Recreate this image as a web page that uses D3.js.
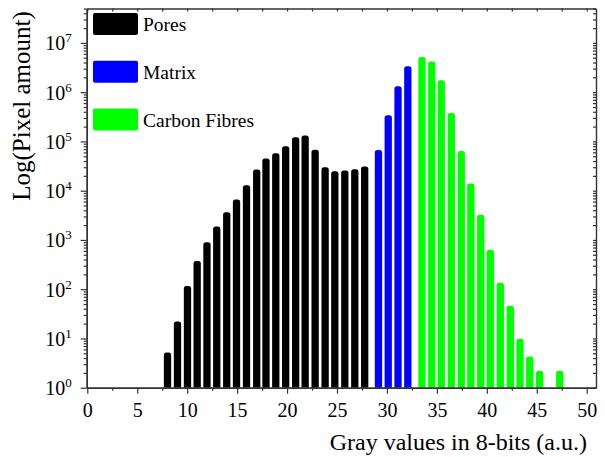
<!DOCTYPE html>
<html>
<head>
<meta charset="utf-8">
<style>
  body { margin: 0; background: #fff; }
  svg { display: block; }
  svg text { font-family: "Liberation Serif", "Times New Roman", serif; }
</style>
<script src="https://cdn.jsdelivr.net/npm/d3@7"></script>
</head>
<body>
<svg id="graph" width="605" height="457"></svg>
<script>

// gray value (bar centre) and pixel count
var poresX = [8.03, 9.03, 10.03, 11.00, 11.98, 12.96, 13.96, 14.94, 15.94, 16.96, 17.89,
              18.87, 19.86, 20.86, 21.81, 22.81, 23.81, 24.78, 25.78, 26.78, 27.77];
var poresY = [5.2, 22, 116, 372, 900, 1880, 3650, 6600, 12900, 27000, 45000,
              57500, 80000, 121000, 132000, 68000, 30000, 24800, 25700, 27300, 31000];

var matrixX = [29.15, 30.13, 31.11, 32.09];
var matrixY = [67000, 340000, 1320000, 3350000];

var fibresX = [33.51, 34.49, 35.44, 36.44, 37.44, 38.40, 39.39, 40.35, 41.35, 42.35,
               43.32, 44.30, 45.29, 47.30];
var fibresY = [5200000, 4200000, 1740000, 380000, 64000, 14000, 3230, 630, 135, 46,
               9.9, 4.3, 2.2, 2.2];

var seriesNames = ["Pores", "Matrix", "Carbon Fibres"];
var seriesColors = ["#000000", "#0000ff", "#00ff00"];

var xTicks = [0, 5, 10, 15, 20, 25, 30, 35, 40, 45, 50];
var yTicks = [1, 10, 100, 1000, 10000, 100000, 1000000, 10000000];
var yExp = ["0", "1", "2", "3", "4", "5", "6", "7"];

var serif = "'Liberation Serif', 'Times New Roman', serif";
var svg = d3.select("#graph");
var axisColor = "#333";

var x = d3.scaleLinear().domain([-0.06, 50.93]).range([86.7, 596]);
var y = d3.scaleLog().domain([1, 5e7]).range([387.7, 8.5]);

var barW = x(0.73) - x(0);
var r = 2.5;

function barPath(cx, v) {
	var x0 = x(cx) - barW / 2, x1 = x(cx) + barW / 2;
	var yt = y(v), yb = y(1);
	return "M" + x0 + "," + yb +
		"V" + (yt + r) +
		"Q" + x0 + "," + yt + " " + (x0 + r) + "," + yt +
		"H" + (x1 - r) +
		"Q" + x1 + "," + yt + " " + x1 + "," + (yt + r) +
		"V" + yb + "Z";
}

var series = [
	{xs: poresX, ys: poresY},
	{xs: matrixX, ys: matrixY},
	{xs: fibresX, ys: fibresY}
];

series.forEach(function(s, k) {
	svg.append("g")
		.selectAll("path")
		.data(s.xs.map((d, i) => [d, s.ys[i]]))
		.enter().append("path")
			.attr("d", d => barPath(d[0], d[1]))
			.attr("fill", seriesColors[k]);
});

// minor ticks
var xMinor = xTicks.slice(0, -1).map(d => d + 2.5);
var yMinor = [];
yTicks.forEach(function(d) {
	for (var m = 2; m <= 9; m++) if (d * m <= 5e7) yMinor.push(d * m);
});

function styleAxis(g) {
	g.attr("font-family", serif).attr("font-size", null);
	g.select(".domain").attr("stroke", axisColor).attr("stroke-width", 1.4);
	g.selectAll(".tick line").attr("stroke", axisColor).attr("stroke-width", 1.2);
	g.selectAll(".tick text").remove();
}

// bottom
svg.append("g").attr("transform", "translate(0," + y(1) + ")")
	.call(d3.axisBottom(x).tickValues(xMinor).tickSize(3).tickSizeOuter(0)).call(styleAxis);
var xb = svg.append("g").attr("transform", "translate(0," + y(1) + ")")
	.call(d3.axisBottom(x).tickValues(xTicks).tickSize(6).tickSizeOuter(0));
styleAxis(xb);
xb.selectAll(".tick").append("text")
	.attr("y", 29)
	.attr("text-anchor", "middle")
	.attr("fill", "#000")
	.style("font-family", serif)
	.style("font-size", "20px")
	.text(d => d);

// top
svg.append("g").attr("transform", "translate(0," + y(5e7) + ")")
	.call(d3.axisTop(x).tickValues(xTicks.concat(xMinor)).tickSize(-3).tickSizeOuter(0)).call(styleAxis);

// left
svg.append("g").attr("transform", "translate(" + x.range()[0] + ",0)")
	.call(d3.axisLeft(y).tickValues(yMinor).tickSize(3).tickSizeOuter(0)).call(styleAxis);
var yl = svg.append("g").attr("transform", "translate(" + x.range()[0] + ",0)")
	.call(d3.axisLeft(y).tickValues(yTicks).tickSize(6).tickSizeOuter(0));
styleAxis(yl);
var lab = yl.selectAll(".tick").append("text")
	.attr("x", -15)
	.attr("y", 7)
	.attr("text-anchor", "end")
	.attr("fill", "#000")
	.style("font-family", serif)
	.style("font-size", "20px");
lab.append("tspan").text("10");
lab.append("tspan").attr("dy", -8).style("font-size", "13px").text((d, i) => yExp[i]);

// right
svg.append("g").attr("transform", "translate(" + x.range()[1] + ",0)")
	.call(d3.axisRight(y).tickValues(yTicks.concat(yMinor)).tickSize(-3).tickSizeOuter(0)).call(styleAxis);

// axis titles
svg.append("text")
	.attr("x", 587).attr("y", 450)
	.attr("text-anchor", "end")
	.style("font-size", "24px")
	.text("Gray values in 8-bits (a.u.)");

svg.append("text")
	.attr("transform", "translate(30,106) rotate(-90)")
	.attr("text-anchor", "middle")
	.style("font-size", "25px")
	.text("Log(Pixel amount)");

// legend
var leg = svg.append("g").selectAll("g")
	.data(seriesNames)
	.enter().append("g")
		.attr("transform", (d, i) => "translate(93," + (13 + i * 47.8) + ")");
leg.append("rect")
	.attr("width", 45).attr("height", 22).attr("rx", 2)
	.attr("fill", (d, i) => seriesColors[i]);
leg.append("text")
	.attr("x", 50).attr("y", 18)
	.style("font-size", "19.5px")
	.text(d => d);

</script>
</body>
</html>
